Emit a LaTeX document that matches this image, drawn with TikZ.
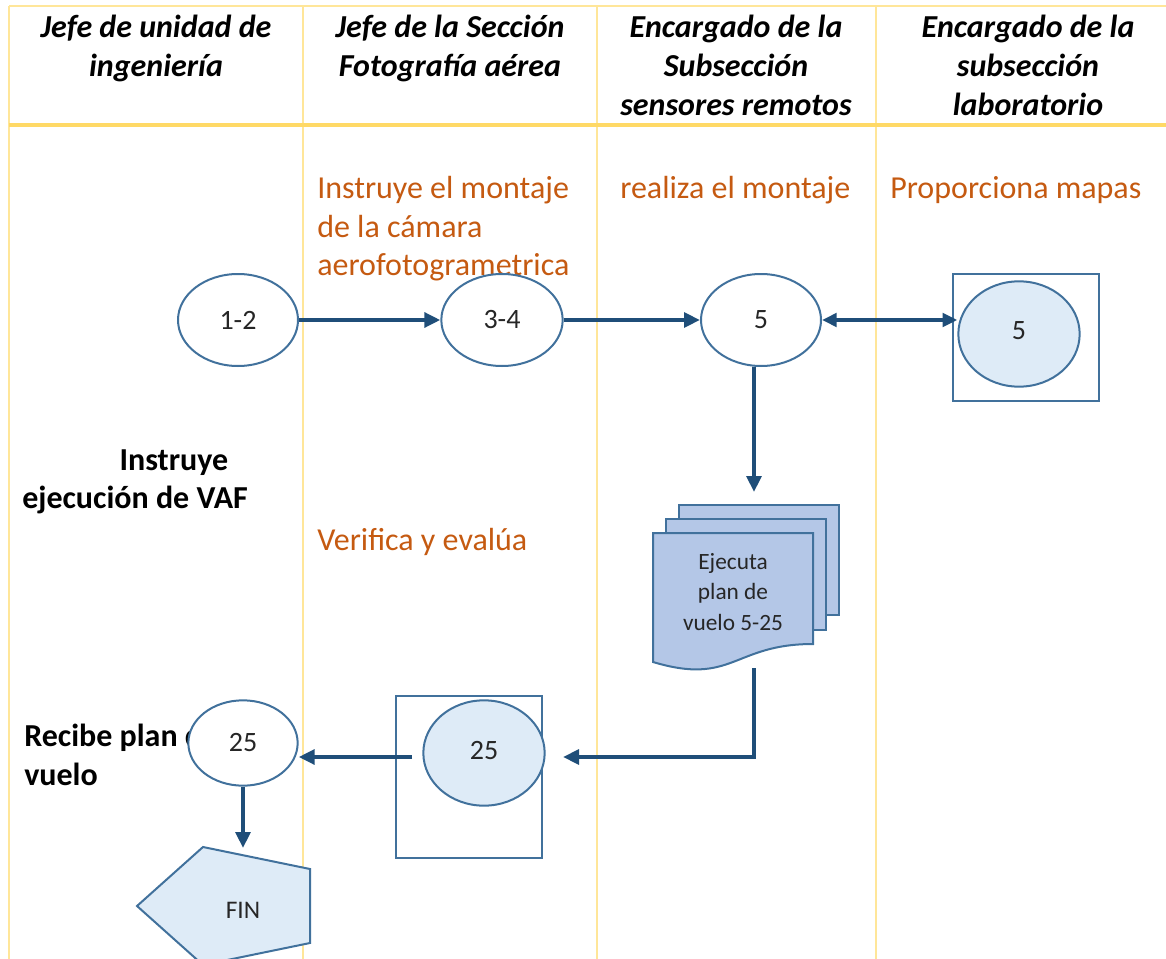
\documentclass[tikz,border=0pt]{standalone}
\usepackage{fontspec}
\setmainfont{Carlito}
\usetikzlibrary{arrows.meta,shapes.geometric,calc}
\definecolor{laneline}{RGB}{255,217,102}
\definecolor{lanethin}{RGB}{255,230,153}
\definecolor{shapeline}{RGB}{65,113,156}
\definecolor{flowline}{RGB}{31,78,121}
\definecolor{shapefill}{RGB}{222,235,247}
\definecolor{docfill}{RGB}{180,199,231}
\definecolor{notetext}{RGB}{197,90,17}
\definecolor{numtext}{RGB}{38,38,38}
\tikzset{
  lane/.style  ={draw=lanethin, line width=1.2pt},
  laneb/.style ={draw=laneline, line width=2.4pt},
  hdr/.style   ={font=\fontsize{24}{29}\selectfont\bfseries\itshape, align=center, anchor=north, inner sep=0pt},
  note/.style  ={font=\fontsize{24}{29}\selectfont, text=notetext, align=left, anchor=north west, inner sep=0pt},
  act/.style   ={font=\fontsize{24}{29}\selectfont\bfseries, align=left, anchor=north west, inner sep=0pt},
  stepc/.style ={ellipse, draw=shapeline, line width=1.5pt, fill=white, inner sep=0pt, font=\fontsize{21}{25}\selectfont, text=numtext},
  stepf/.style ={stepc, fill=shapefill},
  frame/.style ={draw=shapeline, line width=1.5pt},
  page/.style  ={draw=shapeline, line width=1.5pt, fill=docfill},
  pent/.style  ={draw=shapeline, line width=1.5pt, fill=shapefill, line join=miter},
  flow/.style  ={draw=flowline, line width=3pt, -{Triangle[length=12pt,width=11pt]}},
  dflow/.style ={draw=flowline, line width=3pt, {Triangle[length=11pt,width=10pt]}-{Triangle[length=11pt,width=10pt]}},
}
\begin{document}
\begin{tikzpicture}[x=0.75pt,y=-0.75pt]
  \useasboundingbox (0,0) rectangle (1166,959);
  % swimlane grid
  \draw[lane] (9,6) -- (1166,6);
  \draw[lane] (9,6) -- (9,959);
  \draw[lane] (303,6) -- (303,959);
  \draw[lane] (597,6) -- (597,959);
  \draw[lane] (876,6) -- (876,959);
  \draw[laneb] (9,125) -- (1166,125);
  % headers
  \node[hdr] (h1) at (156,15) {Jefe de unidad de\\ingeniería};
  \node[hdr] (h2) at (450,15) {Jefe de la Sección\\Fotografía aérea};
  \node[hdr] (h3) at (736,15) {Encargado de la\\Subsección\\sensores remotos};
  \node[hdr] (h4) at (1028,15) {Encargado de la\\subsección\\laboratorio};
  % notes
  \node[note] (n1) at (317,176) {Instruye el montaje\\de la cámara\\aerofotogrametrica};
  \node[note] (n2) at (620,176) {realiza el montaje};
  \node[note] (n3) at (890,176) {Proporciona mapas};
  \node[note] (n4) at (317,528) {Verifica y evalúa};
  \node[act] (a1) at (22,449) {\hspace*{73pt}Instruye\\ejecución de VAF};
  \node[act] (a2) at (24,724) {Recibe plan de\\vuelo};
  % steps
  \node[stepc, minimum width=90pt, minimum height=69pt] (c12) at (238,320) {1-2};
  \node[stepc, minimum width=91pt, minimum height=69pt] (c34) at (502,320) {3-4};
  \node[stepc, minimum width=90pt, minimum height=69pt] (c5) at (761,320) {5};
  \draw[frame] (953,274) rectangle (1099,401);
  \node[stepf, minimum width=91pt, minimum height=79pt] (l5) at (1019,334) {\raisebox{4.5pt}{5}};
  \draw[frame] (396,696) rectangle (542,858);
  \node[stepf, minimum width=91pt, minimum height=79pt] (e25) at (484,753) {\raisebox{4.5pt}{25}};
  \node[stepc, minimum width=82pt, minimum height=64pt] (c25) at (243,743) {25};
  % multidocument
  \draw[page] (679,505) rectangle (839,615);
  \draw[page] (666,519) rectangle (826,630);
  \draw[page] (653,533) -- (813,533) -- (813,644)
    .. controls (733,644) and (733,686) .. (653,662) -- cycle;
  \node[font=\fontsize{17.5}{23}\selectfont, text=numtext, align=center] (doc) at (733,592) {Ejecuta\\plan de\\vuelo 5-25};
  % end
  \draw[pent] (137,906) -- (203,847) -- (310,869) -- (310,943) -- (203,965) -- cycle;
  \node[font=\fontsize{19}{22}\selectfont, text=numtext] (fin) at (243,910) {FIN};
  % connectors
  \coordinate (d5top) at (754,492);
  \coordinate (dbot) at (754,668);
  \coordinate (dturn) at (754,757);
  \coordinate (in25) at (563,757);
  \coordinate (out25) at (412,757);
  \coordinate (fintop) at (243,848);
  \draw[flow] (c12) -- (c34);
  \draw[flow] (c34) -- (c5);
  \draw[dflow] (c5.east) -- (c5.east -| l5.west);
  \draw[flow] (c5.south -| d5top) -- (d5top);
  \draw[flow] (dbot) -- (dturn) -- (in25);
  \draw[flow] (out25) -- (out25 -| c25.east);
  \draw[flow] (c25.south) -- (fintop);
\end{tikzpicture}
\end{document}
